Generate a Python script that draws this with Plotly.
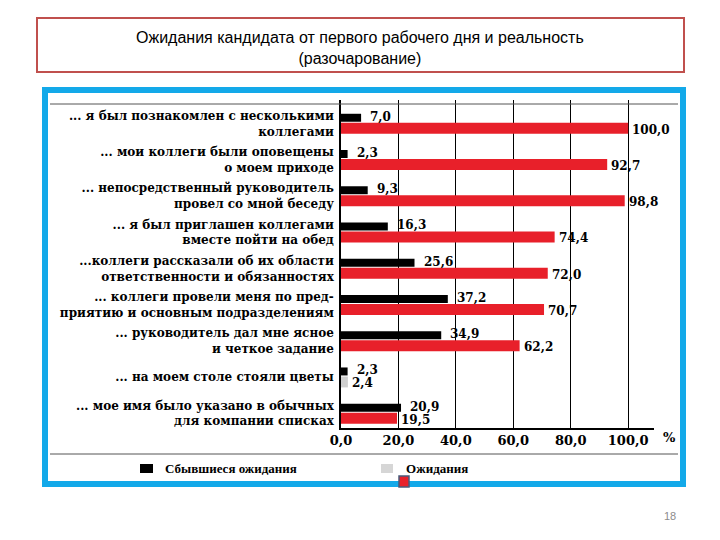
import plotly.graph_objects as go

# Data
categories = [
    "... я был познакомлен с несколькими<br>коллегами",
    "... мои коллеги были оповещены<br>о моем приходе",
    "... непосредственный руководитель<br>провел со мной беседу",
    "... я был приглашен коллегами<br>вместе пойти на обед",
    "...коллеги рассказали об их области<br>ответственности и обязанностях",
    "... коллеги провели меня по пред-<br>приятию и основным подразделениям",
    "... руководитель дал мне ясное<br>и четкое задание",
    "... на моем столе стояли цветы",
    "... мое имя было указано в обычных<br>для компании списках",
]
realized = [7.0, 2.3, 9.3, 16.3, 25.6, 37.2, 34.9, 2.3, 20.9]
expected = [100.0, 92.7, 98.8, 74.4, 72.0, 70.7, 62.2, 2.4, 19.5]
x_ticks = [0, 20, 40, 60, 80, 100]

SERIF = "DejaVu Serif"
label_font = dict(family=SERIF, size=12, color="black", weight="bold")
red_colors = ["#e8202a"] * len(expected)
red_colors[7] = "#cfcfcf"


def px(x):
    return (x - 341) / 313


def py(y):
    return (428 - y) / 328


def fmt(v):
    return f"{v:.1f}".replace(".", ",")


fig = go.Figure()

fig.add_trace(go.Bar(
    y=categories, x=realized, orientation="h",
    name="Сбывшиеся ожидания",
    marker=dict(color="black", line_width=0),
    width=0.22, offset=-0.27,
))

fig.add_trace(go.Bar(
    y=categories, x=expected, orientation="h",
    name="Ожидания",
    marker=dict(color=red_colors, line_width=0),
    width=0.3, offset=-0.02,
))

# value labels next to the bar ends
for cat, v in zip(categories, realized):
    fig.add_annotation(x=v, y=cat, text=fmt(v), showarrow=False,
                       xanchor="left", yanchor="middle", xshift=7, yshift=7,
                       font=label_font)
for cat, v in zip(categories, expected):
    fig.add_annotation(x=v, y=cat, text=fmt(v), showarrow=False,
                       xanchor="left", yanchor="middle", xshift=2, yshift=-6,
                       font=label_font)

fig.update_layout(
    width=720, height=540,
    margin=dict(l=341, r=66, t=100, b=112),
    paper_bgcolor="white", plot_bgcolor="white",
    separators=",.",
    showlegend=False,
    barmode="overlay",
    xaxis=dict(
        range=[0, 109], tickvals=x_ticks, tickformat=".1f",
        showgrid=True, gridcolor="black", gridwidth=1.3,
        showline=True, linecolor="black", linewidth=1.5,
        ticks="", tickfont=dict(family=SERIF, size=13, color="black", weight="bold"),
        zeroline=False,
    ),
    yaxis=dict(
        categoryorder="array", categoryarray=categories,
        range=[8.4, -0.65],
        showline=True, linecolor="black", linewidth=1.5,
        ticks="", ticklabelstandoff=3, automargin=False,
        tickfont=dict(family=SERIF, size=12, color="black", weight="bold"),
    ),
)

# slide title box
fig.add_shape(type="rect", xref="paper", yref="paper",
              x0=px(37), x1=px(684), y0=py(72), y1=py(18),
              line=dict(color="#c0504d", width=2), fillcolor="rgba(0,0,0,0)")
fig.add_annotation(xref="paper", yref="paper", x=px(360), y=py(48),
                   xanchor="center", yanchor="middle",
                   text="Ожидания кандидата от первого рабочего дня и реальность<br>(разочарование)",
                   showarrow=False, font=dict(family="Liberation Sans", size=16, color="black"),
                   align="center")

# blue frame around chart
fig.add_shape(type="rect", xref="paper", yref="paper",
              x0=px(45), x1=px(683), y0=py(484), y1=py(90),
              line=dict(color="#13a9e9", width=6), fillcolor="rgba(0,0,0,0)", layer="below")

# thin separators inside frame
for yy in [104, 454]:
    fig.add_shape(type="line", xref="paper", yref="paper",
                  x0=px(50), x1=px(678), y0=py(yy), y1=py(yy),
                  line=dict(color="#555555", width=1))

fig.add_annotation(xref="paper", yref="paper", x=px(661), y=py(437),
                   text="%", showarrow=False, xanchor="left", yanchor="middle",
                   font=dict(family=SERIF, size=13, color="black", weight="bold"))

# legend drawn by hand
legend_font = dict(family="Liberation Serif", size=13, color="black", weight="bold")
fig.add_shape(type="rect", xref="paper", yref="paper",
              x0=px(140), x1=px(153), y0=py(473), y1=py(464),
              fillcolor="black", line_width=0)
fig.add_annotation(xref="paper", yref="paper", x=px(163), y=py(468),
                   text="Сбывшиеся ожидания", showarrow=False,
                   xanchor="left", yanchor="middle", font=legend_font)
fig.add_shape(type="rect", xref="paper", yref="paper",
              x0=px(381), x1=px(393), y0=py(473), y1=py(464),
              fillcolor="#d6d6d6", line_width=0)
fig.add_shape(type="rect", xref="paper", yref="paper",
              x0=px(399), x1=px(409), y0=py(487), y1=py(476),
              fillcolor="#e8202a", line=dict(color="#4a5a7a", width=1.5))
fig.add_annotation(xref="paper", yref="paper", x=px(404), y=py(468),
                   text="Ожидания", showarrow=False,
                   xanchor="left", yanchor="middle", font=legend_font)

# slide number
fig.add_annotation(xref="paper", yref="paper", x=px(678), y=py(516),
                   text="18", showarrow=False, xanchor="right", yanchor="middle",
                   font=dict(family="Liberation Sans", size=11, color="#8c8c8c"))

fig.write_html("out.html", config=dict(displayModeBar=False),
               post_script="document.body.style.margin='0';")
